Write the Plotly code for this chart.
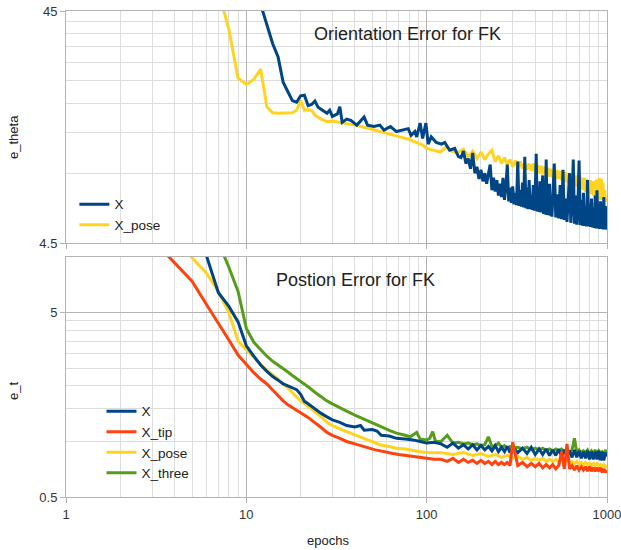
import math
import plotly.graph_objects as go

# ---------------- data ----------------
# Top panel: orientation error e_theta
TOP_X_EP = [11, 12, 13, 14, 15, 16, 17, 18, 19, 20, 21, 22, 23, 24, 25, 26, 27, 28, 29, 30,
            32, 33, 34, 36, 38, 41, 45, 47, 51, 55, 58, 63, 68, 74, 79, 82, 86, 88, 92, 95,
            99, 102, 106, 113, 121, 126, 134, 143, 150] \
    + list(range(155, 500, 5)) + list(range(500, 1001, 10))
TOP_X_VAL = [60, 48, 40, 32.5, 28.5, 22.2, 20.2, 18.5, 18.2, 19.4,
             19.5, 17.6, 17.8, 18.4, 17.3, 16.9, 16.6, 16.3, 16.8, 15.8,
             16.2, 17.4, 14.9, 15.4, 15.2, 14.5, 15.7, 14.5, 14.3, 14.5,
             13.8, 14.3, 13.6, 13.8, 14.0, 13.1, 13.6, 12.9, 14.8, 12.7,
             14.8, 12.0, 12.9, 12.2, 12.0, 12.2, 11.3, 11.5, 10.6,
             # 155 .. 295 (step 5)
             10.5, 11.2, 9.9, 10.4, 9.4, 11.0, 9.0, 9.6, 8.5, 9.3,
             8.3, 9.0, 8.1, 9.1, 9.8, 7.6, 8.6, 7.5, 8.4, 7.2,
             8.1, 7.1, 8.6, 6.9, 7.9, 9.8, 6.8, 7.8, 6.7,
             # 300 .. 495 (step 5)
             7.9, 6.6, 7.4, 6.55, 10.1, 6.5, 7.6, 6.45, 8.2, 6.4,
             10.6, 6.35, 7.8, 6.3, 8.4, 6.3, 7.2, 6.25, 8.0, 6.2,
             7.5, 10.9, 6.15, 7.7, 6.12, 8.3, 6.1, 7.3, 8.8, 6.0,
             7.6, 5.98, 10.3, 5.95, 7.4, 5.93, 8.1, 5.9, 7.2, 5.85,
             # 500 .. 1000 (step 10)
             7.2, 9.9, 5.8, 7.3, 5.75, 8.0, 5.7, 9.3, 5.65, 7.0,
             5.55, 7.6, 9.0, 5.5, 6.8, 10.3, 5.45, 7.2, 5.4, 6.6,
             10.2, 5.38, 6.9, 5.35, 7.4, 5.33, 6.5, 5.3, 8.4, 5.3,
             6.6, 5.28, 7.0, 5.25, 6.2, 5.23, 7.2, 5.2, 7.6, 5.2,
             6.3, 5.18, 6.8, 5.17, 6.0, 5.15, 7.1, 5.15, 6.5, 5.15,
             5.3]

TOP_POSE_EP = [7, 8, 9, 10, 11, 12, 13, 14, 15, 16, 17, 18, 19, 20, 21, 22, 23, 24,
               26, 28, 30, 33, 36, 40, 45, 50, 57, 64, 71, 80, 88, 95, 100, 110, 119,
               129, 138, 147] + list(range(160, 1001, 10))
TOP_POSE_VAL = [55, 37.5, 23.1, 21.7, 22.8, 25.3, 17.4, 16.4, 16.3, 16.3,
                16.3, 16.4, 16.8, 18.5, 16.8, 16.9, 16.8, 16.0,
                15.4, 15.0, 15.1, 14.9, 14.8, 14.5, 14.2, 13.9, 13.6, 13.2,
                12.9, 12.6, 12.2, 11.9, 11.5, 11.3, 11.1, 11.7, 11.2, 11.0,
                # 160 .. 1000 (step 10)
                11.4, 10.6, 11.2, 10.4, 11.1, 10.3, 10.9, 11.3, 10.1, 10.7,
                9.9, 10.5, 9.8, 10.3, 9.6, 10.2, 9.5, 10.1, 9.4, 10.0,
                9.3, 9.9, 9.2, 9.9, 9.1, 9.8, 9.0, 9.7, 8.9, 9.6,
                8.8, 9.5, 8.7, 9.4, 8.6, 9.4, 8.5, 9.3, 8.5, 9.2,
                8.4, 9.2, 8.3, 9.1, 8.2, 9.0, 8.1, 9.0, 8.0, 8.9,
                7.9, 8.8, 7.9, 8.8, 7.8, 8.7, 7.7, 8.6, 7.6, 8.6,
                7.5, 8.5, 7.4, 8.4, 7.4, 8.4, 7.3, 8.3, 7.2, 8.3,
                7.1, 8.4, 7.0, 8.5, 7.0, 8.6, 6.9, 8.5, 6.9, 8.2,
                6.9, 7.6, 6.8, 7.0, 6.8]

# Bottom panel: position error e_t
BOT_X_EP = [5, 6, 7, 8, 9, 10, 11, 12, 13, 14, 15, 16, 17, 18, 19, 20, 21, 22,
            24, 26, 28, 30, 33, 36, 40, 43, 45, 50, 53, 56, 62, 68, 76, 84, 92, 100, 110] \
    + list(range(120, 300, 10)) + list(range(300, 1001, 20))
BOT_X_VAL = [14, 10.2, 6.4, 5.4, 4.45, 3.3, 2.9, 2.6, 2.4, 2.25,
             2.15, 2.05, 2.0, 1.95, 1.91, 1.8, 1.65, 1.6,
             1.5, 1.42, 1.36, 1.31, 1.27, 1.22, 1.2, 1.22, 1.15, 1.16,
             1.14, 1.08, 1.07, 1.04, 1.03, 1.02, 1.0, 0.98, 0.99,
             # 120 .. 290 (step 10)
             0.97, 0.93, 0.98, 0.92, 0.96, 0.91, 0.96, 0.90, 0.95, 0.90,
             0.94, 0.89, 0.95, 0.88, 0.93, 0.88, 0.94, 0.87,
             # 300 .. 1000 (step 20)
             0.93, 0.87, 0.92, 0.86, 0.93, 0.85, 0.91, 0.85, 0.91, 0.84,
             0.90, 0.84, 0.91, 0.83, 0.90, 0.83, 0.89, 0.82, 0.90, 0.82,
             0.89, 0.81, 0.88, 0.81, 0.89, 0.80, 0.88, 0.80, 0.88, 0.80,
             0.89, 0.79, 0.88, 0.79, 0.87, 0.83]

BOT_TIP_EP = [3, 4, 5, 6, 7, 8, 9, 10, 11, 12, 13, 14, 15, 16, 17, 18, 19, 20,
              22, 24, 26, 28, 30, 33, 36, 40, 44, 48, 52, 56, 60, 65, 70, 76, 84, 92,
              100, 110] + list(range(120, 300, 10)) + list(range(300, 1001, 20))
BOT_TIP_VAL = [12.5, 9.3, 7.4, 5.55, 4.4, 3.55, 2.94, 2.6, 2.36, 2.18,
               2.05, 1.9, 1.77, 1.66, 1.58, 1.53, 1.48, 1.43,
               1.35, 1.27, 1.19, 1.12, 1.08, 1.04, 1.0, 0.97, 0.94, 0.92,
               0.90, 0.885, 0.87, 0.86, 0.85, 0.84, 0.83, 0.82, 0.81, 0.80,
               # 120 .. 290 (step 10)
               0.80, 0.78, 0.81, 0.77, 0.80, 0.77, 0.79, 0.76, 0.79, 0.76,
               0.78, 0.75, 0.78, 0.75, 0.77, 0.75, 0.77, 0.74,
               # 300 .. 1000 (step 20)
               0.99, 0.74, 0.77, 0.73, 0.76, 0.73, 0.76, 0.72, 0.75, 0.72,
               0.75, 0.71, 0.74, 0.88, 0.71, 0.97, 0.71, 0.74, 0.70, 0.74,
               0.70, 0.73, 0.70, 0.73, 0.69, 0.73, 0.69, 0.72, 0.69, 0.72,
               0.69, 0.72, 0.68, 0.71, 0.68, 0.70]

BOT_POSE_EP = [4, 5, 6, 7, 8, 9, 10, 11, 12, 13, 14, 15, 16, 17, 18, 19, 20,
               22, 24, 26, 28, 30, 33, 36, 40, 44, 50, 55, 62, 68, 76, 84, 92, 104, 110] \
    + list(range(120, 1001, 20))
BOT_POSE_VAL = [13, 9.9, 8.2, 6.5, 5.0, 3.5, 3.13, 2.85, 2.62, 2.43,
                2.3, 2.18, 2.06, 1.95, 1.84, 1.75, 1.66,
                1.55, 1.45, 1.36, 1.27, 1.22, 1.17, 1.13, 1.08, 1.04, 0.99,
                0.96, 0.94, 0.92, 0.91, 0.89, 0.88, 0.87, 0.87,
                # 120 .. 1000 (step 20)
                0.87, 0.85, 0.87, 0.84, 0.86, 0.83, 0.85, 0.82, 0.84, 0.81,
                0.83, 0.80, 0.82, 0.79, 0.81, 0.79, 0.81, 0.78, 0.80, 0.78,
                0.80, 0.77, 0.79, 0.77, 0.79, 0.76, 0.78, 0.76, 0.78, 0.75,
                0.77, 0.75, 0.77, 0.75, 0.76, 0.74, 0.76, 0.74, 0.76, 0.74,
                0.75, 0.73, 0.75, 0.73, 0.74]

BOT_THREE_EP = [7, 8, 9, 10, 11, 12, 13, 14, 15, 16, 17, 18, 19, 20,
                22, 24, 26, 28, 30, 33, 36, 40, 44, 50, 55, 62, 68, 76, 81, 88, 92,
                100, 104, 108, 112] + list(range(120, 300, 10)) + list(range(300, 1001, 20))
BOT_THREE_VAL = [12, 8.8, 6.5, 4.1, 3.45, 3.15, 2.9, 2.72, 2.6, 2.47,
                 2.38, 2.28, 2.2, 2.12,
                 1.98, 1.85, 1.74, 1.66, 1.6, 1.52, 1.46, 1.39, 1.33, 1.26,
                 1.21, 1.15, 1.11, 1.08, 1.06, 1.12, 1.03, 1.02, 1.04, 1.13, 1.0,
                 # 120 .. 290 (step 10)
                 1.0, 1.08, 0.98, 0.99, 0.97, 0.98, 0.96, 0.97, 0.95, 0.96,
                 1.06, 0.94, 0.95, 0.98, 0.93, 0.95, 0.92, 0.94,
                 # 300 .. 1000 (step 20)
                 0.92, 0.93, 0.91, 0.93, 0.90, 0.92, 0.90, 0.92, 0.89, 0.91,
                 0.89, 0.91, 0.88, 0.91, 0.88, 0.90, 0.88, 0.90, 1.04, 0.87,
                 0.90, 0.87, 0.89, 0.87, 0.90, 0.86, 0.89, 0.86, 0.90, 0.86,
                 0.89, 0.86, 0.88, 0.86, 0.89, 0.88]

X_TICKS = [1, 10, 100, 1000]
X_TICK_TEXT = ["1", "10", "100", "1000"]
X_MINOR = [2, 3, 4, 5, 6, 7, 8, 9, 20, 30, 40, 50, 60, 70, 80, 90,
           200, 300, 400, 500, 600, 700, 800, 900]
TOP_Y_RANGE = [4.5, 45]
TOP_Y_TICKS = [4.5, 45]
TOP_Y_TICK_TEXT = ["4.5", "45"]
TOP_Y_MINOR = [9, 13.5, 18, 22.5, 27, 31.5, 36, 40.5]
BOT_Y_RANGE = [0.5, 10]
BOT_Y_TICKS = [0.5, 5]
BOT_Y_TICK_TEXT = ["0.5", "5"]
BOT_Y_MINOR = [1, 1.5, 2, 2.5, 3, 3.5, 4, 4.5, 10]

C_X = "#004586"
C_TIP = "#ff420e"
C_POSE = "#ffd320"
C_THREE = "#579d1c"

FONT = "Liberation Sans, Arial, sans-serif"
LW = 3

fig = go.Figure()

# top panel (yellow drawn under blue)
fig.add_trace(go.Scatter(x=TOP_POSE_EP, y=TOP_POSE_VAL, mode="lines", name="X_pose",
                         line=dict(color=C_POSE, width=LW), xaxis="x", yaxis="y",
                         legend="legend", legendrank=2))
fig.add_trace(go.Scatter(x=TOP_X_EP, y=TOP_X_VAL, mode="lines", name="X",
                         line=dict(color=C_X, width=LW), xaxis="x", yaxis="y",
                         legend="legend", legendrank=1))

# bottom panel
fig.add_trace(go.Scatter(x=BOT_THREE_EP, y=BOT_THREE_VAL, mode="lines", name="X_three",
                         line=dict(color=C_THREE, width=LW), xaxis="x2", yaxis="y2",
                         legend="legend2", legendrank=4))
fig.add_trace(go.Scatter(x=BOT_POSE_EP, y=BOT_POSE_VAL, mode="lines", name="X_pose",
                         line=dict(color=C_POSE, width=LW), xaxis="x2", yaxis="y2",
                         legend="legend2", legendrank=3))
fig.add_trace(go.Scatter(x=BOT_X_EP, y=BOT_X_VAL, mode="lines", name="X",
                         line=dict(color=C_X, width=LW), xaxis="x2", yaxis="y2",
                         legend="legend2", legendrank=1))
fig.add_trace(go.Scatter(x=BOT_TIP_EP, y=BOT_TIP_VAL, mode="lines", name="X_tip",
                         line=dict(color=C_TIP, width=LW), xaxis="x2", yaxis="y2",
                         legend="legend2", legendrank=2))

MAJOR_GRID = "#b3b3b3"
MINOR_GRID = "#dddddd"
TICKFONT = dict(family=FONT, size=13, color="#333333")
TXT = "#222222"


def xaxis_common(show_labels, anchor):
    return dict(type="log", range=[0, 3], tickmode="array", tickvals=X_TICKS,
                ticktext=X_TICK_TEXT, showticklabels=show_labels, ticks="outside",
                ticklen=5, tickcolor=MAJOR_GRID, showgrid=True, gridcolor=MAJOR_GRID,
                gridwidth=1, showline=True, linecolor=MAJOR_GRID, mirror=True,
                zeroline=False, anchor=anchor, tickfont=TICKFONT, automargin=False,
                ticklabeloverflow="allow",
                minor=dict(tickmode="array", tickvals=X_MINOR, showgrid=True,
                           gridcolor=MINOR_GRID, gridwidth=1, ticks=""))


def yaxis_common(rng, tv, tt, minor, domain, anchor):
    return dict(type="log", range=[math.log10(rng[0]), math.log10(rng[1])],
                tickmode="array", tickvals=tv, ticktext=tt, ticks="outside", ticklen=5,
                tickcolor=MAJOR_GRID, showgrid=True, gridcolor=MAJOR_GRID, gridwidth=1,
                showline=True, linecolor=MAJOR_GRID, mirror=True, zeroline=False,
                domain=domain, anchor=anchor, tickfont=TICKFONT, automargin=False,
                ticklabeloverflow="allow",
                minor=dict(tickmode="array", tickvals=minor, showgrid=True,
                           gridcolor=MINOR_GRID, gridwidth=1, ticks=""))


fig.update_layout(
    width=621, height=550,
    margin=dict(l=66, r=14, t=11, b=53, autoexpand=False),
    paper_bgcolor="white", plot_bgcolor="white",
    font=dict(family=FONT, size=13, color=TXT),
    xaxis=xaxis_common(False, "y"),
    xaxis2=xaxis_common(True, "y2"),
    yaxis=yaxis_common(TOP_Y_RANGE, TOP_Y_TICKS, TOP_Y_TICK_TEXT, TOP_Y_MINOR,
                       [0.5226, 1.0], "x"),
    yaxis2=yaxis_common(BOT_Y_RANGE, BOT_Y_TICKS, BOT_Y_TICK_TEXT, BOT_Y_MINOR,
                        [0.0, 0.4938], "x2"),
    legend=dict(x=0.0155, y=0.634, xanchor="left", yanchor="top",
                bgcolor="rgba(0,0,0,0)", font=dict(family=FONT, size=13.5, color=TXT),
                tracegroupgap=0),
    legend2=dict(x=0.0656, y=0.208, xanchor="left", yanchor="top",
                 bgcolor="rgba(0,0,0,0)", font=dict(family=FONT, size=13.5, color=TXT),
                 tracegroupgap=0),
    showlegend=True,
)

annotations = [
    dict(text="Orientation Error for FK", x=0.632, y=0.9527, xref="paper", yref="paper",
         showarrow=False, font=dict(family=FONT, size=18, color=TXT),
         xanchor="center", yanchor="middle"),
    dict(text="Postion Error for FK", x=0.536, y=0.4465, xref="paper", yref="paper",
         showarrow=False, font=dict(family=FONT, size=18, color=TXT),
         xanchor="center", yanchor="middle"),
    dict(text="e_theta", x=-0.098, y=0.7407, xref="paper", yref="paper", textangle=-90,
         showarrow=False, font=dict(family=FONT, size=13, color=TXT),
         xanchor="center", yanchor="middle"),
    dict(text="e_t", x=-0.098, y=0.218, xref="paper", yref="paper", textangle=-90,
         showarrow=False, font=dict(family=FONT, size=13, color=TXT),
         xanchor="center", yanchor="middle"),
    dict(text="epochs", x=0.485, y=-0.0905, xref="paper", yref="paper",
         showarrow=False, font=dict(family=FONT, size=13, color=TXT),
         xanchor="center", yanchor="middle"),
]
fig.update_layout(annotations=annotations)

# remove the default 8px page margin so the figure sits at the window's corner
fig.write_html("out.html",
               config={"displayModeBar": False},
               post_script="document.body.style.margin='0';document.body.style.overflow='hidden';")
